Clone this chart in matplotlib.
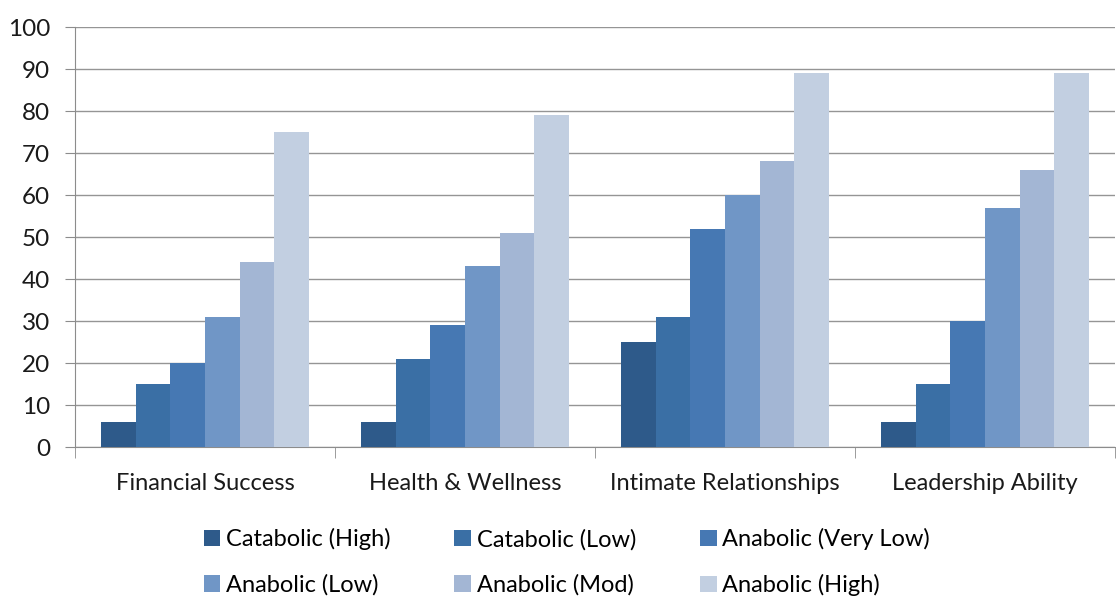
import matplotlib.pyplot as plt
import numpy as np

categories = ["Financial Success", "Health & Wellness", "Intimate Relationships", "Leadership Ability"]
series_names = ["Catabolic (High)", "Catabolic (Low)", "Anabolic (Very Low)",
                "Anabolic (Low)", "Anabolic (Mod)", "Anabolic (High)"]
catabolic_high = [6, 6, 25, 6]
catabolic_low = [15, 21, 31, 15]
anabolic_very_low = [20, 29, 52, 30]
anabolic_low = [31, 43, 60, 57]
anabolic_mod = [44, 51, 68, 66]
anabolic_high = [75, 79, 89, 89]
y_ticks = list(range(0, 101, 10))

series = [catabolic_high, catabolic_low, anabolic_very_low,
          anabolic_low, anabolic_mod, anabolic_high]
colors = ["#2E5A8A", "#3A6FA5", "#4678B3", "#7096C6", "#A3B6D4", "#C2CFE1"]

plt.rcParams['font.family'] = ['Lato', 'DejaVu Sans']

fig = plt.figure(figsize=(11.16, 6.0), dpi=100)
ax = fig.add_axes([0.0672, 0.255, 0.932, 0.700])

n = len(series)
group_w = 0.8
bw = group_w / n
x = np.arange(len(categories))
handles = []
for i, (vals, c) in enumerate(zip(series, colors)):
    h = ax.bar(x - group_w / 2 + bw * (i + 0.5), vals, width=bw, color=c,
               label=series_names[i], zorder=3, linewidth=0)
    handles.append(h)

ax.set_xlim(-0.5, len(categories) - 0.5)
ax.set_ylim(0, 100)
ax.set_yticks(y_ticks)
ax.yaxis.grid(True, color="#959595", linewidth=1.0, zorder=0)
ax.set_axisbelow(True)

for s in ["top", "right"]:
    ax.spines[s].set_visible(False)
ax.spines["left"].set_color("#8C8C8C")
ax.spines["bottom"].set_color("#8C8C8C")

ax.set_xticks(x)
ax.set_xticklabels(categories, fontsize=17, color="#1a1a1a")
ax.tick_params(axis="x", length=0, pad=19)
ax.set_xticks(np.arange(-0.5, len(categories)), minor=True)
ax.tick_params(axis="x", which="minor", length=8, color="#8C8C8C", direction="out")
ax.tick_params(axis="y", length=7, color="#8C8C8C", labelsize=17.5, labelcolor="#1a1a1a", pad=11)

# row-wise ordering for a 3-column legend
order = [0, 3, 1, 4, 2, 5]
fig.legend([handles[k] for k in order], [series_names[k] for k in order],
           ncol=3, loc="center", bbox_to_anchor=(0.508, 0.063), frameon=False,
           fontsize=17, handlelength=0.7, handleheight=0.7, handletextpad=0.25,
           columnspacing=2.7, labelspacing=1.0)

fig.savefig("out.png", dpi=100)
